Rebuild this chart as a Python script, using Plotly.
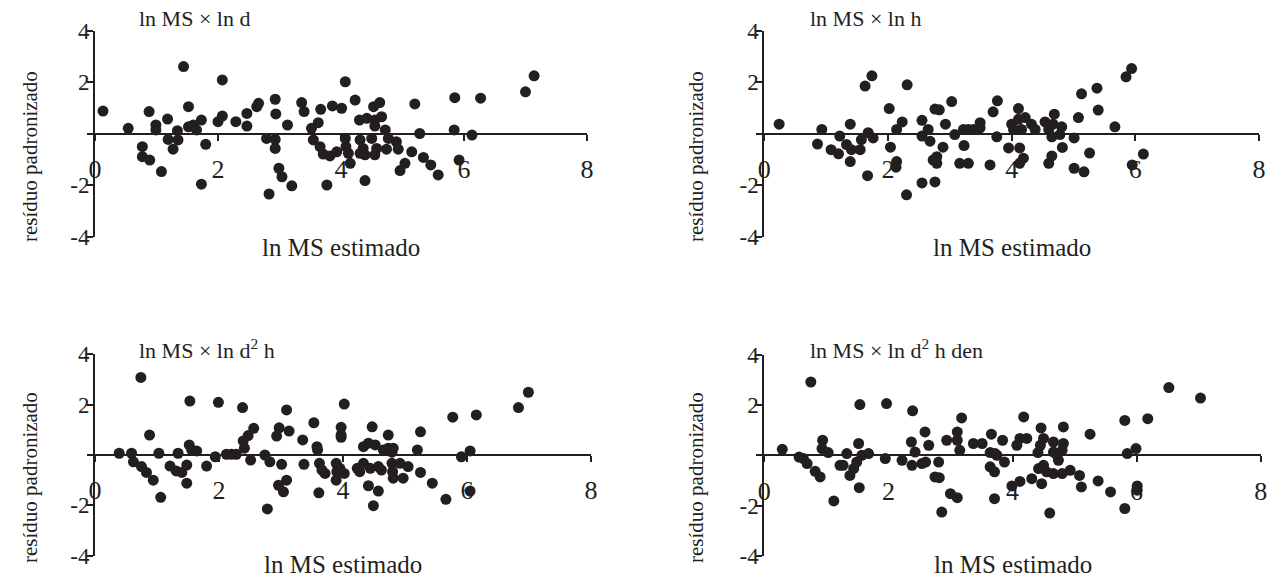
import plotly.graph_objects as go

W, H = 1274, 579

# ---- data (ln MS estimado vs resíduo padronizado) ----
d_x = [0.13, 1.44, 2.07, 0.54, 0.88, 0.99, 0.99, 1.18, 1.52, 1.34, 1.19, 1.35, 1.27, 0.77, 0.77, 0.89, 1.08,
       1.52, 1.6, 1.65, 1.73, 1.8, 1.73, 2.0, 2.07, 2.29, 2.47, 2.47, 2.66, 2.63, 2.79, 2.83,
       2.93, 2.94, 3.13, 2.93, 2.93, 2.99, 3.04, 3.2, 3.36, 3.4, 3.67, 3.86, 4.01, 4.07, 4.23, 3.63, 3.52,
       3.55, 3.66, 3.71, 3.82, 3.93, 4.07, 4.08, 4.12, 4.15, 3.77, 4.39, 4.31, 4.36, 4.31, 4.39, 4.3, 4.42,
       4.55, 4.55, 4.66, 4.53, 4.63, 4.5, 4.58, 4.55, 4.72, 4.77, 4.74, 4.9, 4.93, 5.04, 4.96, 5.15, 5.2,
       5.28, 5.34, 5.46, 5.58, 5.85, 6.27, 5.84, 6.13, 5.92, 7.0, 7.14]
d_y = [0.87, 2.6, 2.08, 0.2, 0.85, 0.33, 0.14, 0.56, 1.04, 0.11, -0.23, -0.25, -0.61, -0.51, -0.9, -1.03, -1.48,
       0.26, 0.33, 0.14, 0.52, -0.42, -1.97, 0.46, 0.68, 0.46, 0.78, 0.29, 1.17, 1.04, -0.19, -2.35,
       1.33, 0.76, 0.33, -0.23, -0.58, -1.35, -1.68, -2.03, 1.2, 0.85, 0.94, 1.07, 0.98, 2.01, 1.3, 0.42, 0.2,
       -0.25, -0.51, -0.8, -0.87, -0.71, -0.19, -0.51, -0.77, -1.16, -2.0, -1.83, -0.25, -0.58, -0.77, -0.83, 0.52, 0.59,
       0.52, 0.29, 0.65, 1.04, 1.2, -0.19, -0.58, -0.83, 0.14, -0.19, -0.61, -0.32, -0.61, -1.16, -1.44, -0.71, 1.15,
       0.0, -0.93, -1.22, -1.61, 1.39, 1.37, 0.14, -0.06, -1.03, 1.62, 2.24]

h_x = [0.24, 0.93, 0.86, 1.08, 1.2, 1.22, 1.39, 1.33, 1.41, 1.39, 1.55, 1.57, 1.68, 1.76, 1.63, 1.74, 1.67,
       2.02, 2.31, 2.04, 2.14, 2.23, 2.14, 2.13, 2.3, 2.55, 2.55, 2.55, 2.65, 2.68, 2.73, 2.76, 2.76,
       2.83, 3.03, 2.93, 2.89, 2.79, 2.79, 3.08, 3.22, 3.3, 3.38, 3.49, 3.49, 3.23, 3.16, 3.3, 3.65, 3.7,
       3.77, 3.76, 3.95, 4.11, 4.0, 4.03, 4.11, 4.22, 4.16, 4.32, 4.38, 4.13, 4.19, 4.13, 4.54, 4.69, 4.67,
       4.6, 4.65, 4.81, 4.78, 4.82, 4.65, 4.6, 5.01, 5.08, 5.13, 5.38, 5.4, 5.26, 5.01, 5.17, 5.67, 5.85,
       5.94, 6.13, 5.95]
h_y = [0.36, 0.16, -0.41, -0.63, -0.79, -0.1, 0.36, -0.43, -0.63, -1.09, -0.63, -0.24, 0.03, -0.17, 1.84, 2.24, -1.64,
       0.97, 1.89, -0.53, 0.16, 0.45, -1.09, -1.31, -2.38, -1.92, 0.51, -0.1, 0.16, -0.3, -1.03, 0.95, -1.88,
       0.92, 1.24, 0.36, -0.53, -0.9, -1.16, -0.04, 0.16, 0.16, 0.16, 0.42, 0.22, -0.47, -1.16, -1.16, -1.22, 0.84,
       1.27, -0.13, -0.56, 0.97, 0.36, 0.16, 0.55, 0.62, 0.16, 0.36, 0.16, -0.56, -0.96, -1.16, 0.45, 0.75, 0.36,
       0.16, -0.13, 0.26, -0.04, -0.54, -0.87, -1.16, -0.17, 0.62, 1.54, 1.76, 0.91, -0.76, -1.35, -1.49, 0.26, 2.2,
       2.52, -0.8, -1.22]

d2h_x = [0.74, 0.39, 0.59, 0.62, 0.75, 0.83, 0.94, 0.88, 1.03, 1.06, 1.21, 1.31, 1.4, 1.48, 1.34, 1.53, 1.52,
         1.56, 1.64, 1.48, 1.8, 1.99, 1.94, 2.12, 2.2, 2.28, 2.38, 2.39, 2.47, 2.56, 2.41, 2.51, 2.74, 2.78,
         2.82, 3.09, 2.97, 2.93, 3.13, 3.01, 3.09, 2.96, 3.04, 3.35, 3.37, 3.53, 3.58, 3.59, 3.62, 3.66, 3.71,
         3.61, 4.02, 3.97, 3.97, 3.97, 3.89, 3.9, 3.95, 4.02, 3.89, 4.23, 4.27, 4.33, 4.33, 4.41, 4.52, 4.47,
         4.41, 4.57, 4.49, 4.44, 4.57, 4.62, 4.65, 4.73, 4.79, 4.81, 4.73, 4.79, 4.8, 4.81, 4.92, 5.05, 4.97,
         5.2, 5.25, 5.25, 5.44, 5.66, 5.77, 6.15, 5.91, 6.05, 6.05, 6.83, 6.99]
d2h_y = [3.08, 0.07, 0.07, -0.27, -0.46, -0.69, -1.0, 0.79, 0.07, -1.68, -0.44, -0.63, -0.69, -0.4, 0.07, 2.14, 0.4,
         0.2, 0.16, -1.12, -0.44, 2.09, -0.07, 0.03, 0.03, 0.03, 1.88, 0.56, 0.77, 1.06, 0.27, -0.2, 0.0, -2.14,
         -0.27, 1.79, 1.08, 0.75, 0.95, -0.37, -1.0, -1.2, -1.46, 0.6, -0.37, 1.28, 0.33, 0.2, -0.33, -0.6, -0.73,
         -1.5, 2.02, 1.1, 0.79, 0.7, -0.33, -0.66, -0.53, -0.73, -1.0, -0.53, -0.66, -0.33, 0.33, 0.47, 0.4, 1.12,
         -1.22, -1.43, -2.01, -0.53, -0.46, -0.6, 0.2, 0.27, 0.11, 0.27, 0.79, -0.33, -0.66, -0.92, -0.33, -0.46, -0.92,
         0.2, 0.92, -0.69, -1.12, -1.76, 1.5, 1.59, -0.07, 0.16, -1.43, 1.88, 2.49]

den_x = [0.75, 0.29, 0.56, 0.63, 0.69, 0.82, 0.9, 0.94, 0.93, 1.03, 1.12, 1.22, 1.27, 1.33, 1.38, 1.44, 1.49,
         1.52, 1.54, 1.53, 1.57, 1.68, 1.97, 1.95, 2.22, 2.39, 2.37, 2.43, 2.38, 2.54, 2.59, 2.65, 2.75,
         2.6, 2.81, 2.82, 2.86, 2.94, 3.11, 3.11, 3.15, 3.18, 3.0, 3.11, 3.37, 3.51, 3.66, 3.64, 3.72, 3.75,
         3.84, 3.87, 3.64, 3.71, 3.71, 4.18, 4.07, 4.12, 4.23, 3.99, 4.12, 4.46, 4.5, 4.45, 4.41, 4.66, 4.82,
         4.8, 4.72, 4.74, 4.66, 4.82, 5.25, 4.42, 4.5, 4.55, 4.47, 4.31, 4.66, 4.8, 4.93, 5.08, 5.11, 5.38,
         4.6, 5.58, 5.81, 5.81, 6.18, 5.85, 5.99, 6.01, 6.01, 6.52, 7.03]
den_y = [2.92, 0.24, -0.07, -0.13, -0.33, -0.64, -0.86, 0.6, 0.27, 0.11, -1.82, -0.4, -0.4, 0.07, -0.8, -0.53, -0.27,
         0.47, 2.02, -1.29, 0.0, 0.07, 2.06, -0.13, -0.2, 1.77, 0.53, 0.13, -0.4, -0.33, 0.93, 0.4, -0.86,
         -0.27, -0.27, -0.89, -2.26, 0.6, 0.93, 0.6, 0.2, 1.49, -1.53, -1.69, 0.47, 0.47, 0.84, 0.11, 0.07, 0.0,
         0.6, -0.27, -0.46, -0.66, -1.73, 1.53, 0.4, 0.67, 0.67, -1.22, -1.04, 1.09, 0.67, 0.4, 0.11, 0.53, 0.47,
         0.2, 0.0, -0.2, 0.13, 1.13, 0.84, -0.53, -0.4, -0.66, -1.13, -0.93, -0.73, -0.73, -0.6, -0.8, -1.26, -1.02,
         -2.3, -1.46, -2.12, 1.39, 1.46, 0.07, 0.27, -1.22, -1.39, 2.7, 2.28]

x_ticks = [0, 2, 4, 6, 8]
y_ticks = [-4, -2, 0, 2, 4]
y_ticktext = ["-4", "-2", "", "2", "4"]
titles = ["ln MS × ln d", "ln MS × ln h", "ln MS × ln d<sup>2</sup> h", "ln MS × ln d<sup>2</sup> h den"]
x_title = "ln MS estimado"
y_title = "resíduo padronizado"

# ---- layout (pixel boxes of each plot area) ----
FONT = "Liberation Serif"
INK = "#231f20"
boxes = [
    dict(x0=95, x1=587, ytop=30.5, ybot=236.5, tx=137, ty=19, ytx=30, yty=157, xty=247),
    dict(x0=764.3, x1=1259, ytop=30.5, ybot=236.5, tx=808, ty=19, ytx=696, yty=157, xty=247),
    dict(x0=95, x1=591, ytop=354.2, ybot=555.8, tx=137, ty=349, ytx=30, yty=478, xty=564),
    dict(x0=764.3, x1=1260.7, ytop=354.9, ybot=555.7, tx=808, ty=349, ytx=696, yty=478, xty=564),
]
series = [(d_x, d_y), (h_x, h_y), (d2h_x, d2h_y), (den_x, den_y)]

fig = go.Figure()
annotations = []
for i, (b, (xs, ys), t) in enumerate(zip(boxes, series, titles), start=1):
    sfx = "" if i == 1 else str(i)
    xdom = [b["x0"] / W, b["x1"] / W]
    ydom = [1 - b["ybot"] / H, 1 - b["ytop"] / H]
    zero_pos = (ydom[0] + ydom[1]) / 2
    fig.add_trace(go.Scatter(
        x=xs, y=ys, mode="markers", xaxis="x" + sfx, yaxis="y" + sfx,
        marker=dict(size=11, color=INK), cliponaxis=False, showlegend=False,
    ))
    fig.layout["xaxis" + sfx] = dict(
        domain=xdom, range=[0, 8], anchor="free", position=zero_pos, automargin=False,
        showline=True, linecolor=INK, linewidth=2, ticks="outside", ticklen=6,
        tickwidth=2, tickcolor=INK, tickvals=x_ticks, showgrid=False, zeroline=False,
        tickfont=dict(family=FONT, size=26, color=INK), ticklabelstandoff=6,
    )
    fig.layout["yaxis" + sfx] = dict(
        domain=ydom, range=[-4, 4], anchor="x" + sfx, automargin=False,
        showline=True, linecolor=INK, linewidth=2, ticks="outside", ticklen=6,
        tickwidth=2, tickcolor=INK, tickvals=y_ticks, ticktext=y_ticktext,
        showgrid=False, zeroline=False, ticklabelstandoff=-7,
        tickfont=dict(family=FONT, size=23, color=INK),
    )
    annotations.append(dict(text=t, x=b["tx"] / W, y=1 - b["ty"] / H, xref="paper", yref="paper",
                            xanchor="left", yanchor="middle", showarrow=False,
                            font=dict(family=FONT, size=22, color=INK)))
    annotations.append(dict(text=x_title, x=(b["x0"] + b["x1"]) / 2 / W, y=1 - b["xty"] / H,
                            xref="paper", yref="paper", xanchor="center", yanchor="middle",
                            showarrow=False, font=dict(family=FONT, size=25, color=INK)))
    annotations.append(dict(text=y_title, x=b["ytx"] / W, y=1 - b["yty"] / H, textangle=-90,
                            xref="paper", yref="paper", xanchor="center", yanchor="middle",
                            showarrow=False, font=dict(family=FONT, size=21, color=INK)))

fig.update_layout(
    width=W, height=H, margin=dict(l=0, r=0, t=0, b=0, autoexpand=False),
    paper_bgcolor="white", plot_bgcolor="white", annotations=annotations,
)
fig.write_html("out.html", config={"displayModeBar": False},
               post_script="document.body.style.margin='0';")
